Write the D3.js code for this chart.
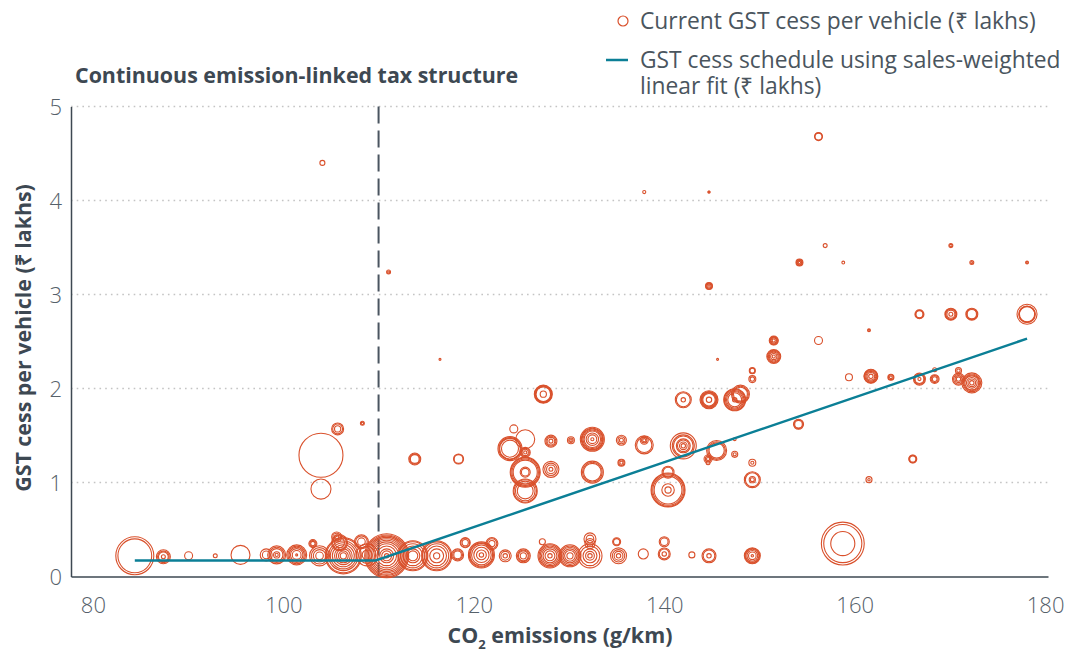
<!DOCTYPE html>
<html>
<head>
<meta charset="utf-8">
<script src="https://cdn.jsdelivr.net/npm/d3@7"></script>
<style>
  body { margin: 0; background: #fff; }
  text { font-family: "Open Sans", sans-serif; }
</style>
</head>
<body>
<div id="chart"></div>
<script>
// each entry = one CO2/cess point, sales = the models sitting on it (thousand units)
const co2 = [104.1, 137.9, 144.7, 156.2, 156.9, 170.1, 154.2, 158.8, 172.3, 178.1,
  111.05, 144.7, 116.45, 166.8, 170.1, 172.3, 178.1, 161.5, 156.2, 151.5,
  151.5, 145.6, 149.25, 149.25, 159.4, 161.7, 163.8, 166.8, 168.4, 168.4,
  170.9, 170.9, 172.3,
  142.0, 144.7, 147.4, 148.0, 127.3, 105.7, 108.3, 103.95, 103.95, 113.8,
  118.4, 124.2, 125.4, 123.8, 125.4, 125.4, 125.4, 128.1, 128.1, 130.2,
  132.45, 132.45, 135.5, 135.5, 137.9, 137.9, 140.4, 140.4, 142.0, 145.5,
  144.6, 144.6, 147.4, 147.4, 149.25, 149.25, 154.1, 166.1, 161.5,
  84.4, 87.4, 90.05, 92.85, 95.5, 98.2, 99.3, 101.4, 103.1, 103.8,
  105.6, 106.3, 105.9, 108.2, 108.8, 110.85, 113.6, 116.1, 118.3, 119.1,
  120.8, 121.9, 123.3, 125.2, 127.2, 128.0, 130.1, 132.2, 132.2, 132.2,
  135.2, 135.0, 137.8, 140.0, 140.0, 142.9, 144.7, 149.25, 158.75]

const cess = [4.40, 4.09, 4.09, 4.68, 3.52, 3.52, 3.34, 3.34, 3.34, 3.34,
  3.24, 3.09, 2.31, 2.79, 2.79, 2.79, 2.79, 2.62, 2.51, 2.51,
  2.34, 2.31, 2.19, 2.10, 2.12, 2.13, 2.12, 2.10, 2.20, 2.10,
  2.19, 2.10, 2.06,
  1.88, 1.88, 1.88, 1.94, 1.94, 1.57, 1.63, 1.29, 0.93, 1.25,
  1.25, 1.57, 1.46, 1.36, 1.32, 1.11, 0.91, 1.44, 1.14, 1.45,
  1.46, 1.11, 1.45, 1.21, 1.45, 1.40, 1.11, 0.92, 1.39, 1.34,
  1.25, 1.21, 1.30, 1.46, 1.21, 1.03, 1.62, 1.25, 1.03,
  0.22, 0.21, 0.22, 0.22, 0.23, 0.23, 0.23, 0.23, 0.35, 0.22,
  0.42, 0.22, 0.36, 0.37, 0.23, 0.22, 0.22, 0.22, 0.23, 0.36,
  0.23, 0.35, 0.22, 0.22, 0.37, 0.22, 0.22, 0.22, 0.40, 0.35,
  0.22, 0.37, 0.24, 0.24, 0.37, 0.23, 0.22, 0.22, 0.35]

const sales = [[1.3], [0.5], [0.1, 0.2], [2.5, 3.3], [0.8], [0.3, 0.8], [0.3, 1, 1.8, 2.5], [0.4], [0.2, 0.8], [0.1, 0.4],
  [0.2, 0.8], [0.3, 1, 1.8, 2.5], [0.2], [2.5, 3.3, 4.2], [0.8, 3.3, 5.2, 6.2, 7.4], [4.5, 5.8, 7.4], [12, 13.2, 14, 20.7], [0.2, 0.4], [3.3], [0.5, 1.5, 2.5, 3.5, 4.2],
  [0.5, 2, 4, 6, 8, 10], [0.2], [1.2, 1.9], [1.0, 2.5], [2.5], [1, 3, 5, 7, 9, 10], [0.4, 1.2, 1.9], [0.5, 4, 5.5, 7.4], [0.8], [1.2, 2.5, 4],
  [0.6, 1.9], [1, 2.5, 5, 7.4], [1, 3, 6, 10, 13, 16, 20.7],
  [1, 10, 13.2], [1.5, 8, 10, 12, 14, 16.7], [1, 10, 14, 18, 22, 25], [10, 13, 16.7], [2, 11, 13, 15, 16.7], [2, 5, 7.4], [0.3, 0.8], [100], [20.7], [4, 5.5, 7.4],
  [4, 5.2], [3.3], [18.6], [15, 22, 25, 29.8], [0.5, 2, 3.5, 5.2], [3, 5.2, 30, 36, 42, 46.5], [13, 20, 26, 29.8], [0.8, 3, 5, 7.4], [0.8, 4, 8, 13.2], [0.3, 1, 2.5],
  [0.5, 4, 8, 14, 18, 22, 25, 29.8], [16, 20, 25], [0.8, 2.5, 5.2], [0.5, 1.5, 2.5], [0.5, 1.5, 3.3], [12, 16.7], [5, 7.4], [2, 8, 40, 48, 55, 59.7], [1, 3, 7, 10, 20, 25, 34.9], [12, 16, 20.7],
  [0.5, 1.5, 3.3], [0.8], [0.5, 1.9], [0.4], [0.5, 2.5], [0.8, 2, 10, 13.2], [3, 4, 5.2], [2, 2.8, 3.3], [0.3, 1.9],
  [59, 74.6], [0.8, 5, 7, 10.1], [3.3], [0.8], [18.6], [3, 7.4], [0.5, 2, 8, 12, 16.7], [0.2, 4, 8, 12, 16, 20.7], [1, 2, 3.3], [3, 8, 14, 20.7],
  [1, 3, 5.2], [2, 5, 10, 16, 25, 35, 45, 59.7, 67], [5, 10, 13.2], [3, 7, 10.1], [5, 15, 25], [1, 5, 10, 20, 30, 40, 50, 60, 70, 80, 90, 100], [5, 10, 20, 30, 40.5, 46.5], [2, 10, 20, 30, 40, 46.5], [3, 5, 7.4], [2, 4, 5.2],
  [1, 5, 12, 20, 26, 30, 34.9], [2, 5, 7.4], [1, 4, 7.4], [2, 5, 7, 10.1], [1.9], [1, 5, 10, 15, 20, 25, 29.8], [2, 6, 10, 15, 20, 25], [1, 4, 10, 20, 29.8], [3, 7.4], [2, 5.2],
  [1, 4, 8, 13.2], [2, 3.3], [5.2], [1, 5, 7.4], [3, 5.2], [1.9], [1, 7, 10.1], [0.3, 3, 6, 9, 11, 13.2], [30, 75, 95]]

// sales-weighted fit schedule
const fitCO2 = [84.4, 109.7, 178.1]
const fitCess = [0.17, 0.17, 2.53]

const xTicks = [80, 100, 120, 140, 160, 180]
const yTicks = [0, 1, 2, 3, 4, 5]
const threshold = 110

const width = 1068, height = 653
const orange = "#d9502b", teal = "#0b7f96", ink = "#3d4852"

const svg = d3.select("#chart").append("svg")
    .attr("width", width)
    .attr("height", height)

const x = d3.scaleLinear().domain([77.7, 180.3]).range([71, 1048])
const y = d3.scaleLinear().domain([0, 5]).range([576.5, 106.5])
const r = d3.scaleSqrt().domain([0, 100]).range([0, 22])

// dotted gridlines
svg.append("g")
    .selectAll("line")
    .data(yTicks.filter(d => d > 0))
    .enter().append("line")
    .attr("x1", x.range()[0]).attr("x2", x.range()[1])
    .attr("y1", d => y(d)).attr("y2", d => y(d))
    .attr("stroke", "#c4c4c4")
    .attr("stroke-width", 1.6)
    .attr("stroke-dasharray", "1.6,4.1")

// axes
const xAxis = svg.append("g")
    .attr("transform", "translate(0," + y(0) + ")")
    .call(d3.axisBottom(x).tickValues(xTicks).tickSize(0).tickPadding(21))
const yAxis = svg.append("g")
    .attr("transform", "translate(" + x.range()[0] + ",0)")
    .call(d3.axisLeft(y).tickValues(yTicks).tickFormat(d3.format("d")).tickSize(0).tickPadding(9))

svg.selectAll(".domain").attr("stroke", ink).attr("stroke-width", 1.5)
svg.selectAll(".tick text")
    .attr("fill", "#56616a")
    .style("font-size", "22px")
    .style("font-weight", 300)
yAxis.selectAll(".tick text").attr("dy", "0.36em")

// threshold line
svg.append("line")
    .attr("x1", x(threshold)).attr("x2", x(threshold))
    .attr("y1", y(5)).attr("y2", y(0))
    .attr("stroke", "#4a5560")
    .attr("stroke-width", 2)
    .attr("stroke-dasharray", "17,7")

// bubbles
const models = []
co2.forEach((c, i) => {
    sales[i].forEach(s => models.push({ co2: c, cess: cess[i], sales: s }))
})

svg.append("g")
    .selectAll("circle")
    .data(models)
    .enter().append("circle")
    .attr("cx", d => x(d.co2))
    .attr("cy", d => y(d.cess))
    .attr("r", d => Math.max(1, r(d.sales)))
    .attr("fill", "none")
    .attr("stroke", orange)
    .attr("stroke-width", 1.1)

// fit line
const fit = fitCO2.map((c, i) => [c, fitCess[i]])
svg.append("path")
    .datum(fit)
    .attr("fill", "none")
    .attr("stroke", teal)
    .attr("stroke-width", 2.5)
    .attr("d", d3.line().x(d => x(d[0])).y(d => y(d[1])))

// titles
svg.append("text")
    .attr("x", 75).attr("y", 83)
    .attr("fill", ink)
    .style("font-size", "21.4px").style("font-weight", 700)
    .text("Continuous emission-linked tax structure")

svg.append("text")
    .attr("transform", "translate(31,338) rotate(-90)")
    .attr("text-anchor", "middle")
    .attr("fill", ink)
    .style("font-size", "21.4px").style("font-weight", 700)
    .text("GST cess per vehicle (₹ lakhs)")

const xt = svg.append("text")
    .attr("x", 560).attr("y", 643)
    .attr("text-anchor", "middle")
    .attr("fill", ink)
    .style("font-size", "21.4px").style("font-weight", 700)
xt.append("tspan").text("CO")
xt.append("tspan").attr("dy", 6).style("font-size", "13px").text("2")
xt.append("tspan").attr("dy", -6).text(" emissions (g/km)")

// legend
const legend = svg.append("g").style("font-size", "22.8px").attr("fill", "#4a555e")
legend.append("circle")
    .attr("cx", 623).attr("cy", 21).attr("r", 5)
    .attr("fill", "none").attr("stroke", orange).attr("stroke-width", 1.2)
legend.append("text").attr("x", 640).attr("y", 29)
    .text("Current GST cess per vehicle (₹ lakhs)")
legend.append("line")
    .attr("x1", 606).attr("x2", 628).attr("y1", 60).attr("y2", 60)
    .attr("stroke", teal).attr("stroke-width", 2.5)
legend.append("text").attr("x", 640).attr("y", 68)
    .text("GST cess schedule using sales-weighted")
legend.append("text").attr("x", 640).attr("y", 94)
    .text("linear fit (₹ lakhs)")
</script>
</body>
</html>
